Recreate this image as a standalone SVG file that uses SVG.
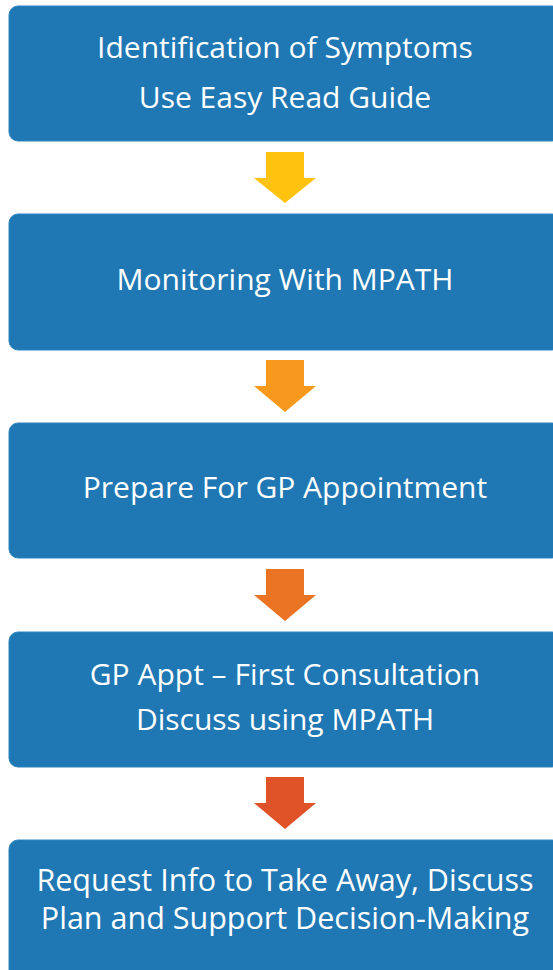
<svg xmlns="http://www.w3.org/2000/svg" width="553" height="970" viewBox="0 0 553 970">
<style>
.box{fill:#1F77B4;stroke:#2E84BE;stroke-width:1}
.t{fill:#FFFFFF;font-family:"Open Sans","Noto Sans","Liberation Sans",sans-serif;font-size:30px;text-anchor:middle}
.t5{fill:#FFFFFF;font-family:"Open Sans","Noto Sans","Liberation Sans",sans-serif;font-size:30.5px;text-anchor:middle}
</style>
<rect width="553" height="970" fill="#FFFFFF"/>
<g id="connectors">
<polygon points="266,152 304,152 304,178 316,178 285,203 254,178 266,178" fill="#FFC20E"/>
<polygon points="266,360 304,360 304,386 316,386 285,412 254,386 266,386" fill="#F7991C"/>
<polygon points="266,569 304,569 304,595 316,595 285,621 254,595 266,595" fill="#EB7424"/>
<polygon points="266,777 304,777 304,803 316,803 285,829 254,803 266,803" fill="#E05328"/>
</g>
<g id="node1">
<rect class="box" x="9" y="6" width="552" height="135" rx="9"/>
<text class="t" x="285" y="58">Identification of Symptoms</text>
<text class="t" x="285" y="108">Use Easy Read Guide</text>
</g>
<g id="node2">
<rect class="box" x="9" y="214" width="552" height="136" rx="9"/>
<text class="t" x="285" y="290">Monitoring With MPATH</text>
</g>
<g id="node3">
<rect class="box" x="9" y="423" width="552" height="135" rx="9"/>
<text class="t" x="285" y="498">Prepare For GP Appointment</text>
</g>
<g id="node4">
<rect class="box" x="9" y="632" width="552" height="135" rx="9"/>
<text class="t" x="285" y="685">GP Appt – First Consultation</text>
<text class="t" x="285" y="730">Discuss using MPATH</text>
</g>
<g id="node5">
<rect class="box" x="9" y="840" width="552" height="140" rx="9"/>
<text class="t5" x="285" y="891">Request Info to Take Away, Discuss</text>
<text class="t5" x="285" y="929">Plan and Support Decision-Making</text>
</g>
</svg>
